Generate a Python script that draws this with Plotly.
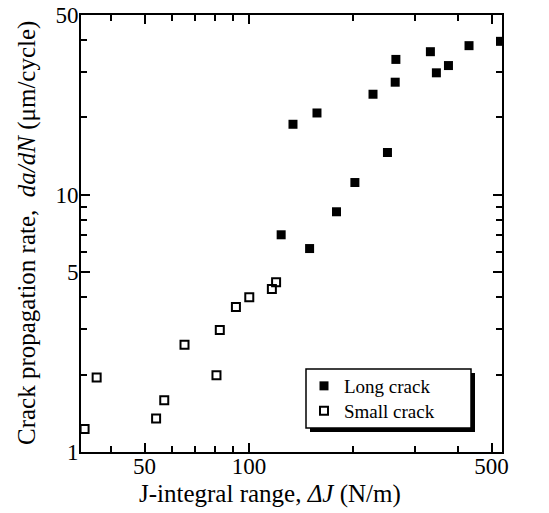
import plotly.graph_objects as go

# Long crack data (ΔJ in N/m, da/dN in μm/cycle)
long_dj = [133.9, 157, 123.8, 149.5, 178.7, 201.9, 250.6, 227.7, 263.8, 265, 333.2, 346.7, 375.6, 430.5, 530.4]
long_rate = [18.8, 20.8, 6.99, 6.18, 8.59, 11.16, 14.6, 24.6, 27.4, 33.6, 36.0, 29.8, 31.8, 38.0, 39.5]

# Small crack data
small_dj = [33.6, 36.4, 54.0, 57.0, 65.2, 80.6, 82.4, 91.7, 100.2, 116.4, 119.7]
small_rate = [1.23, 1.95, 1.35, 1.59, 2.61, 1.99, 2.98, 3.66, 4.0, 4.30, 4.57]

x_major = [50, 100, 500]
x_minor = [40, 60, 70, 80, 90, 200, 300, 400]
y_major = [1, 5, 10, 50]
y_minor = [2, 3, 4, 6, 7, 8, 9, 20, 30, 40]

FONT = "Liberation Serif"

fig = go.Figure()
fig.add_trace(go.Scatter(
    x=long_dj, y=long_rate, mode="markers", name="Long crack", legend="legend",
    marker=dict(symbol="square", size=9, color="black", line=dict(width=0)),
))
fig.add_trace(go.Scatter(
    x=small_dj, y=small_rate, mode="markers", name="Small crack", legend="legend2",
    marker=dict(symbol="square-open", size=8, color="black", line=dict(width=2, color="black")),
))

W, H = 549, 513
L, T = 81, 15
pw, ph = 421, 437
R, B = W - L - pw, H - T - ph

def px(xp):
    return (xp - L) / pw

def py(yp):
    return (T + ph - yp) / ph

axis_common = dict(
    type="log", showgrid=False, zeroline=False, automargin=False,
    showline=True, linecolor="black", linewidth=2, mirror="allticks",
    ticks="inside", ticklen=9, tickwidth=1.5, tickcolor="black",
    tickfont=dict(family=FONT, size=23, color="black"),
    tickmode="array", ticklabeloverflow="allow",
)

fig.update_xaxes(
    **axis_common,
    range=[1.516, 2.729],
    tickvals=x_major, ticktext=[str(v) for v in x_major],
    ticklabelstandoff=-8,
    minor=dict(tickmode="array", tickvals=x_minor, ticks="inside", ticklen=6,
               tickwidth=1.5, tickcolor="black", showgrid=False),
)
fig.update_yaxes(
    **axis_common,
    range=[0, 1.699],
    tickvals=y_major, ticktext=[str(v) for v in y_major],
    ticklabelstandoff=-4,
    minor=dict(tickmode="array", tickvals=y_minor, ticks="inside", ticklen=6,
               tickwidth=1.5, tickcolor="black", showgrid=False),
)

# axis titles
fig.add_annotation(text="J-integral range, <i>ΔJ</i> (N/m)", xref="paper", yref="paper",
                   x=px(270), y=py(494), xanchor="center", yanchor="middle", showarrow=False,
                   font=dict(family=FONT, size=25, color="black"))
fig.add_annotation(text="Crack propagation rate,  <i>da/dN</i> (μm/cycle)", xref="paper", yref="paper",
                   x=px(27), y=py(233), xanchor="center", yanchor="middle", showarrow=False,
                   textangle=-90, font=dict(family=FONT, size=25, color="black"))

# legend box with drop shadow
fig.add_shape(type="rect", xref="paper", yref="paper",
              x0=px(310), x1=px(475), y0=py(432), y1=py(373),
              fillcolor="black", line=dict(width=0), layer="below")
fig.add_shape(type="rect", xref="paper", yref="paper",
              x0=px(306), x1=px(471), y0=py(428), y1=py(369),
              fillcolor="white", line=dict(width=1.5, color="black"), layer="below")

leg_common = dict(xanchor="left", yanchor="middle", bgcolor="rgba(0,0,0,0)", borderwidth=0,
                  font=dict(family=FONT, size=19, color="black"), itemwidth=30)

fig.update_layout(
    width=W, height=H,
    margin=dict(l=L, r=R, t=T, b=B),
    paper_bgcolor="white", plot_bgcolor="white",
    font=dict(family=FONT, color="black"),
    showlegend=True,
    legend=dict(x=px(304), y=py(386), **leg_common),
    legend2=dict(x=px(304), y=py(411), **leg_common),
)

fig.write_html("out.html", config={"displayModeBar": False},
               post_script="document.body.style.margin='0px';")
